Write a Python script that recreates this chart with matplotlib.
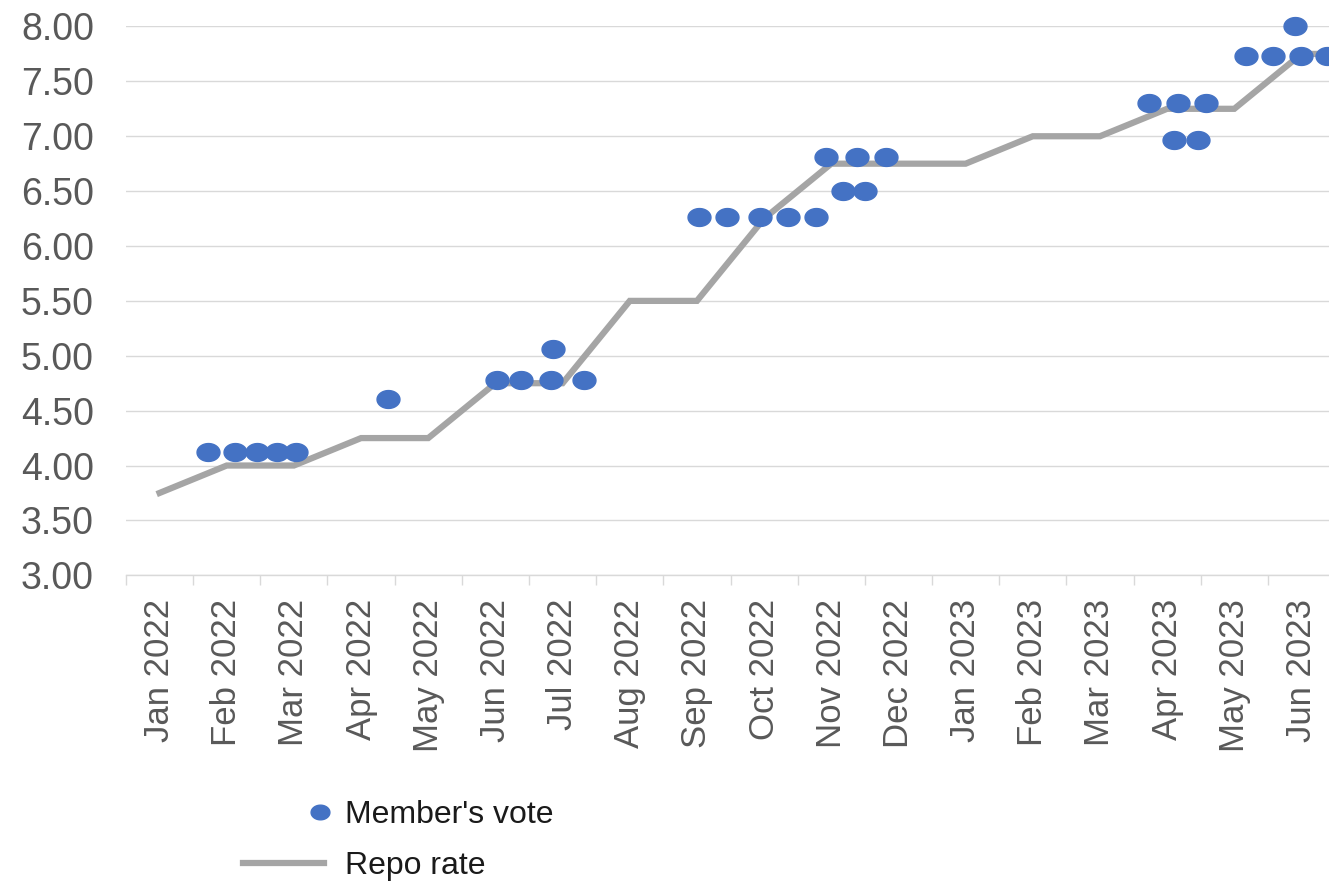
import numpy as np
import matplotlib
matplotlib.use('Agg')
import matplotlib.pyplot as plt
from matplotlib.path import Path
from matplotlib.ticker import FixedLocator, FixedFormatter
from matplotlib import font_manager

plt.rcParams['font.family'] = ['Liberation Sans', 'DejaVu Sans']

# Repo rate, one value per month (Jul 2023 runs past the right edge)
months = ['Jan 2022', 'Feb 2022', 'Mar 2022', 'Apr 2022', 'May 2022', 'Jun 2022',
          'Jul 2022', 'Aug 2022', 'Sep 2022', 'Oct 2022', 'Nov 2022', 'Dec 2022',
          'Jan 2023', 'Feb 2023', 'Mar 2023', 'Apr 2023', 'May 2023', 'Jun 2023',
          'Jul 2023']
repo_rate = [3.75, 4.00, 4.00, 4.25, 4.25, 4.75, 4.75, 5.50, 5.50, 6.25, 6.75,
             6.75, 6.75, 7.00, 7.00, 7.25, 7.25, 7.75, 7.75]

# Individual member votes (x in month units, 0 = Jan 2022)
vote_x = [0.72, 1.12, 1.45, 1.75, 2.03,
          3.40,
          5.02, 5.38, 5.83, 6.32, 5.86,
          8.03, 8.45, 8.94, 9.35, 9.77,
          9.92, 10.38, 10.81, 10.17, 10.50,
          14.73, 15.16, 15.58, 15.10, 15.46,
          16.17, 16.57, 16.99, 17.38, 16.90]
vote_y = [4.12, 4.12, 4.12, 4.12, 4.12,
          4.61,
          4.78, 4.78, 4.78, 4.78, 5.06,
          6.26, 6.26, 6.26, 6.26, 6.26,
          6.81, 6.81, 6.81, 6.50, 6.50,
          7.30, 7.30, 7.30, 6.97, 6.97,
          7.73, 7.73, 7.73, 7.73, 8.00]

yticks = [3.0, 3.5, 4.0, 4.5, 5.0, 5.5, 6.0, 6.5, 7.0, 7.5, 8.0]

BLUE = '#4472C4'
GREY = '#A5A5A5'
GRID = '#D9D9D9'
TXT = '#595959'

# legend text is set in a narrow face when one is available
installed = {f.name for f in font_manager.fontManager.ttflist}
if 'Liberation Sans Narrow' in installed:
    leg_font = {'family': 'Liberation Sans Narrow', 'size': 27}
else:
    leg_font = {'family': 'Liberation Sans', 'size': 23}

# slightly flattened ellipse marker
t = np.linspace(0, 2 * np.pi, 64)
oval = Path(np.column_stack([np.cos(t), 0.78 * np.sin(t)]), closed=True)

fig = plt.figure(figsize=(13.29, 8.89), dpi=100)
ax = fig.add_axes([0.0948, 0.3529, 0.9052, 0.6173])

x = np.arange(len(months))
line, = ax.plot(x, repo_rate, color=GREY, lw=4.5, solid_joinstyle='miter',
                label='Repo rate', zorder=2)
dots, = ax.plot(vote_x, vote_y, ls='none', marker=oval, markersize=16.5,
                color=BLUE, mec=BLUE, label="Member's vote", zorder=3,
                clip_on=False)

ax.set_xlim(-0.5, 17.41)
ax.set_ylim(3, 8)
ax.set_yticks(yticks)
ax.set_yticklabels([f'{v:.2f}' for v in yticks])
ax.grid(axis='y', color=GRID, lw=1.0)
ax.set_axisbelow(True)

ax.xaxis.set_major_locator(FixedLocator(x))
ax.xaxis.set_major_formatter(FixedFormatter(months))
ax.xaxis.set_minor_locator(FixedLocator(np.arange(-0.5, len(months), 1.0)))
ax.tick_params(axis='x', which='major', length=0, pad=17, labelsize=25,
               labelcolor=TXT, labelrotation=90)
ax.tick_params(axis='x', which='minor', length=7, width=1.0, color=GRID)
ax.tick_params(axis='y', length=0, pad=23, labelsize=27, labelcolor=TXT)

for s in ['left', 'right', 'top']:
    ax.spines[s].set_visible(False)
ax.spines['bottom'].set_color(GRID)
ax.spines['bottom'].set_linewidth(1.0)

# legend entries below the axis, stacked; text starts near x = 345 px
W, H = 1329.0, 889.0
em = leg_font['size'] * 100 / 72.0
text_x = 345.0
# vote entry: short handle with the marker just left of the text
h1_len, h1_pad = 38.0, 6.0
leg1 = fig.legend(handles=[dots], loc='center left',
                  bbox_to_anchor=((text_x - h1_pad - h1_len) / W, (H - 815) / H),
                  frameon=False, prop=leg_font, handlelength=h1_len / em,
                  handletextpad=h1_pad / em, borderpad=0, borderaxespad=0,
                  markerscale=0.82)
# repo rate entry: long grey bar
h2_len, h2_pad = 81.0, 21.0
leg2 = fig.legend(handles=[line], loc='center left',
                  bbox_to_anchor=((text_x - h2_pad - h2_len) / W, (H - 866) / H),
                  frameon=False, prop=leg_font, handlelength=h2_len / em,
                  handletextpad=h2_pad / em, borderpad=0, borderaxespad=0)
for lg in (leg1, leg2):
    for txt in lg.get_texts():
        txt.set_color('#1a1a1a')

fig.savefig('out.png', dpi=100)
